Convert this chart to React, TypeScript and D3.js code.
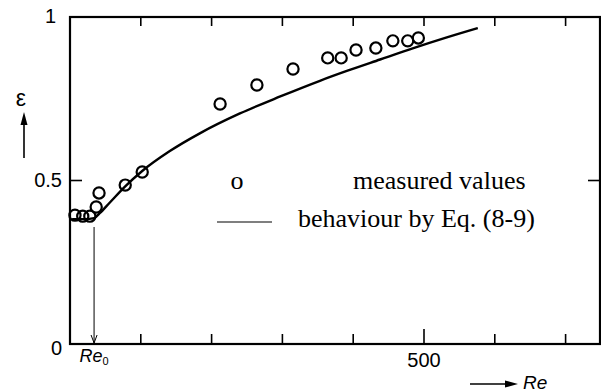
import React from "react";
import * as d3 from "d3";

const width = 601;
const height = 392;

// measured values (Re, epsilon)
const measuredRe = [7, 18, 28, 37, 41, 78, 102, 212, 264, 315, 364, 383, 404, 432, 456, 477, 492];
const measuredEps = [0.394, 0.391, 0.391, 0.419, 0.462, 0.486, 0.526, 0.734, 0.792, 0.841, 0.875, 0.875, 0.899, 0.905, 0.927, 0.927, 0.936];

// behaviour by Eq. (8-9)
const curveRe = [3, 21, 34, 42, 56, 78, 102, 141, 184, 240, 297, 353, 391, 438, 484, 530, 576];
const curveEps = [0.382, 0.382, 0.385, 0.4, 0.432, 0.482, 0.529, 0.59, 0.645, 0.705, 0.757, 0.805, 0.835, 0.87, 0.904, 0.936, 0.966];

const xTicks = [100, 200, 300, 400, 500, 600, 700];
const xLabelled = [500];
const yTicks = [0.5];
const yLabels = [
  { v: 1, text: "1" },
  { v: 0.5, text: "0.5" },
  { v: 0, text: "0" },
];
const re0 = 34;

const x = d3.scaleLinear().domain([0, 750]).range([70, 601]);
const y = d3.scaleLinear().domain([0, 1]).range([344, 17]);

const sans = "'Liberation Sans', Arial, sans-serif";
const serif = "'Liberation Serif', 'Times New Roman', serif";

export default function App() {
  const line = d3
    .line<number>()
    .x((_, i) => x(curveRe[i]))
    .y(d => y(d))
    .curve(d3.curveMonotoneX);
  const path = line(curveEps) || "";

  const x0 = x.range()[0];
  const x1 = 600;
  const yb = y(0);
  const yt = y(1);
  const reX = x(re0);

  return (
    <svg
      width={width}
      height={height}
      style={{ position: "absolute", left: 0, top: 0, background: "#fff" }}
    >
      {/* frame */}
      <rect x={x0} y={yt} width={x1 - x0} height={yb - yt} fill="none" stroke="#000" strokeWidth={2.2} />

      {/* x ticks, top and bottom, pointing inward */}
      {xTicks.map(t => (
        <g key={t}>
          <line x1={x(t)} x2={x(t)} y1={yt} y2={yt + 9} stroke="#000" strokeWidth={1.6} />
          <line
            x1={x(t)}
            x2={x(t)}
            y1={yb}
            y2={yb - (xLabelled.includes(t) ? 15 : 10)}
            stroke="#000"
            strokeWidth={1.6}
          />
        </g>
      ))}
      {xLabelled.map(t => (
        <text key={t} x={x(t)} y={yb + 23} textAnchor="middle" fontFamily={sans} fontSize={20}>
          {t}
        </text>
      ))}

      {/* y ticks */}
      {yTicks.map(t => (
        <g key={t}>
          <line x1={x0} x2={x0 + 12} y1={y(t)} y2={y(t)} stroke="#000" strokeWidth={1.6} />
          <line x1={x1} x2={x1 - 12} y1={y(t)} y2={y(t)} stroke="#000" strokeWidth={1.6} />
        </g>
      ))}
      {yLabels.map(l => (
        <text
          key={l.v}
          x={l.v === 1 ? 56 : 62}
          y={y(l.v) + (l.v === 0 ? 11 : 6)}
          textAnchor="end"
          fontFamily={sans}
          fontSize={20}
        >
          {l.text}
        </text>
      ))}

      {/* y axis title with arrow */}
      <text x={21} y={106} textAnchor="middle" fontFamily={sans} fontSize={23}>
        ε
      </text>
      <line x1={24} x2={24} y1={158} y2={120} stroke="#000" strokeWidth={1.6} />
      <path d="M20.5,125 L24,112 L27.5,125 Z" fill="#000" />

      {/* x axis title with arrow */}
      <line x1={470} x2={508} y1={384} y2={384} stroke="#000" strokeWidth={1.6} />
      <path d="M505,380.5 L518,384 L505,387.5 Z" fill="#000" />
      <text x={523} y={389} fontFamily={sans} fontStyle="italic" fontSize={19}>
        Re
      </text>

      {/* Re0 marker */}
      <line x1={reX} x2={reX} y1={227} y2={yb - 1} stroke="#000" strokeWidth={1} />
      <path d={`M${reX - 3},${yb - 9} L${reX},${yb - 1} L${reX + 3},${yb - 9}`} fill="none" stroke="#000" strokeWidth={1} />
      <text x={reX} y={362} textAnchor="middle" fontFamily={sans} fontStyle="italic" fontSize={18}>
        Re
        <tspan fontSize={11} dy={3} fontStyle="normal">0</tspan>
      </text>

      {/* curve */}
      <path d={path} fill="none" stroke="#000" strokeWidth={2.4} />

      {/* measured points */}
      {measuredRe.map((r, i) => (
        <circle key={i} cx={x(r)} cy={y(measuredEps[i])} r={5.6} fill="none" stroke="#000" strokeWidth={2.2} />
      ))}

      {/* legend */}
      <text x={237} y={189} textAnchor="middle" fontFamily={serif} fontSize={26}>
        o
      </text>
      <text x={353} y={189} fontFamily={serif} fontSize={26}>
        measured values
      </text>
      <line x1={217} x2={272} y1={222} y2={222} stroke="#000" strokeWidth={1.2} />
      <text x={298} y={227} fontFamily={serif} fontSize={26}>
        behaviour by Eq. (8-9)
      </text>
    </svg>
  );
}
